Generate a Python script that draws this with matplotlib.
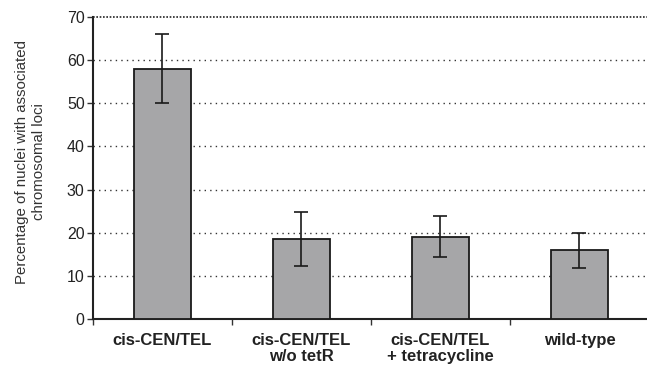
import matplotlib
matplotlib.use("Agg")
import matplotlib.pyplot as plt
import numpy as np

plt.rcParams['font.family'] = ['Liberation Sans', 'DejaVu Sans']

categories = ["cis-CEN/TEL", "cis-CEN/TEL\nw/o tetR", "cis-CEN/TEL\n+ tetracycline", "wild-type"]
values = [58.0, 18.6, 19.1, 15.9]
errors = [8.0, 6.25, 4.8, 4.0]
yticks = [0, 10, 20, 30, 40, 50, 60, 70]

fig = plt.figure(figsize=(6.47, 3.66), dpi=100)
ax = fig.add_axes([93 / 647, 1 - 319 / 366, 1 - 93 / 647 + 0.003, 302 / 366])

x = np.arange(len(categories))
ax.bar(x, values, width=0.41, color="#a6a6a8", edgecolor="#1a1a1a", linewidth=1.3, zorder=3)
ax.errorbar(x, values, yerr=errors, fmt="none", ecolor="#1a1a1a", elinewidth=1.2,
            capsize=5, capthick=1.2, zorder=4)

# dotted horizontal gridlines
for v in yticks[1:-1]:
    ax.axhline(v, color="#333333", linestyle=(0, (1, 3)), linewidth=1.0, zorder=1)
ax.axhline(yticks[-1], color="#222222", linestyle=(0, (1, 1)), linewidth=1.2, zorder=1, clip_on=False)

ax.set_xlim(-0.5, len(categories) - 0.5)
ax.set_ylim(0, 70)
ax.set_yticks(yticks)
ax.set_yticklabels([str(t) for t in yticks], fontsize=11.5, color="#222222")

ax.set_xticks(x)
ax.set_xticklabels(categories, fontsize=12, fontweight="bold", color="#222222", linespacing=1.1)
ax.set_xticks(np.arange(-0.5, len(categories)), minor=True)
ax.tick_params(axis="x", which="major", length=0, pad=10)
ax.tick_params(axis="x", which="minor", length=4, width=1.0, color="#333333", direction="out")
ax.tick_params(axis="y", length=4, width=1.0, color="#333333", direction="out", pad=2)

for side in ("top", "right"):
    ax.spines[side].set_visible(False)
for side in ("left", "bottom"):
    ax.spines[side].set_color("#222222")
    ax.spines[side].set_linewidth(1.5)

ax.set_ylabel("Percentage of nuclei with associated\nchromosomal loci", fontsize=10.8,
              color="#333333", labelpad=14, linespacing=1.25)
ax.yaxis.set_label_coords(-0.085, 0.52)

fig.savefig("out.png", dpi=100)
